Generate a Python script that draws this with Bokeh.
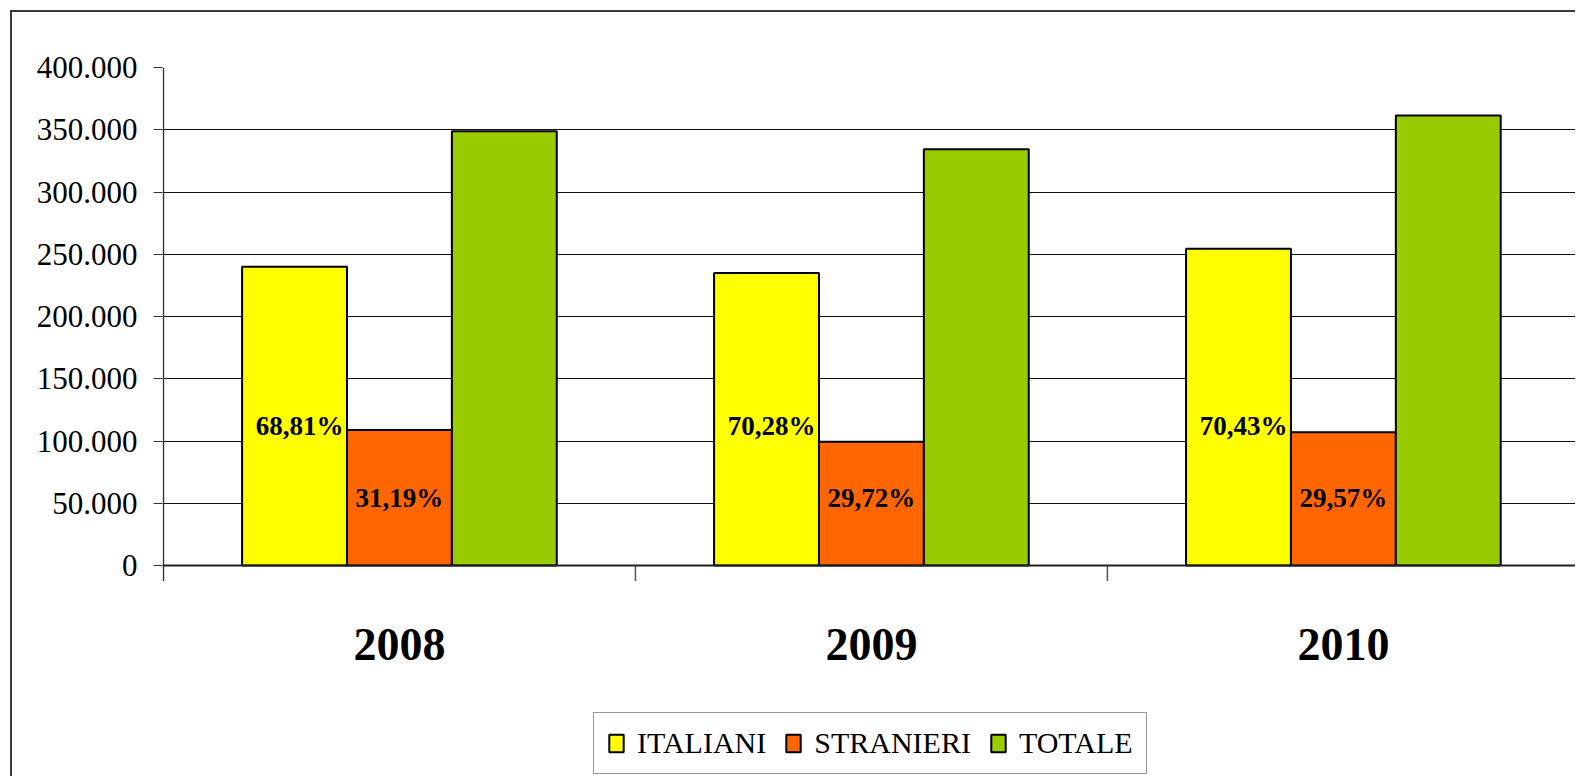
import numpy as np
from bokeh.plotting import figure
from bokeh.models import (Range1d, FixedTicker, ColumnDataSource, Legend, LegendItem,
                          LinearAxis, Grid)
from bokeh.transform import dodge
from bokeh.core.properties import value
from bokeh.embed import file_html
from bokeh.resources import INLINE

# ---------------- data ----------------
years = ["2008", "2009", "2010"]
italiani = [240000, 235000, 254500]
stranieri = [108800, 99400, 107000]
totale = [348800, 334400, 361500]
pct_italiani = ["68,81%", "70,28%", "70,43%"]
pct_stranieri = ["31,19%", "29,72%", "29,57%"]
series_names = ["ITALIANI", "STRANIERI", "TOTALE"]
series_colors = ["#FFFF00", "#FF6600", "#99CC00"]
y_ticks = [0, 50000, 100000, 150000, 200000, 250000, 300000, 350000, 400000]

FONT = "Liberation Serif"
n = len(years)
centers = np.arange(n) + 0.5
W = 1 / 4.5  # bar width (gap width 150%)

src = ColumnDataSource(dict(x=centers, years=years, italiani=italiani,
                            stranieri=stranieri, totale=totale,
                            pct_it=pct_italiani, pct_st=pct_stranieri))

p = figure(width=1565, height=766, output_backend="svg", toolbar_location=None,
           x_range=Range1d(-0.002, 2.996), y_range=Range1d(-171084, 400000),
           min_border_left=150, min_border_top=55, min_border_right=0,
           min_border_bottom=0, x_axis_location=None, y_axis_location=None)
p.outline_line_color = None
p.background_fill_color = "white"
p.border_fill_color = "white"
p.styles = {"border-left": "2px solid #3c3c3c", "border-top": "2px solid #3c3c3c",
            "margin-left": "10px", "margin-top": "10px"}

# drop default grids
p.center = [r for r in p.center if not isinstance(r, Grid)]

yticker = FixedTicker(ticks=y_ticks)
yaxis = LinearAxis(ticker=yticker)
yaxis.axis_line_color = None
yaxis.major_tick_out = 9
yaxis.major_tick_in = 0
yaxis.major_tick_line_color = "#333333"
yaxis.minor_tick_line_color = None
yaxis.major_label_standoff = 16
yaxis.major_label_text_font = FONT
yaxis.major_label_text_font_size = "31px"
yaxis.major_label_text_color = "black"
yaxis.major_label_overrides = {t: f"{t:,}".replace(",", ".") for t in y_ticks}
p.add_layout(yaxis, "left")

p.add_layout(Grid(dimension=1, ticker=FixedTicker(ticks=y_ticks[:-1]),
                  grid_line_color="#111111", grid_line_width=1))
p.add_layout(Grid(dimension=1, ticker=FixedTicker(ticks=y_ticks[-1:]),
                  grid_line_color="#808080", grid_line_width=2.5))

# axis lines and category separators
tick_len = 12500
p.segment(x0=[0], x1=[0], y0=[-tick_len], y1=[y_ticks[-1]], line_color="#333333",
          line_width=1.5)
p.segment(x0=list(range(1, n + 1)), x1=list(range(1, n + 1)),
          y0=[0] * n, y1=[-tick_len] * n, line_color="#555555", line_width=1.5)

bars = []
for field, off, col in zip(["italiani", "stranieri", "totale"], [-W, 0, W], series_colors):
    r = p.vbar(x=dodge("x", off), top=field, bottom=0, width=W, source=src,
               fill_color=col, line_color="black", line_width=2)
    bars.append(r)

p.segment(x0=[0], x1=[n], y0=[0], y1=[0], line_color="#222222", line_width=2)

# percentage labels
p.text(x=dodge("x", -W), y=112400, text="pct_it", source=src, x_offset=5,
       text_align="center", text_baseline="alphabetic", text_font=value(FONT),
       text_font_size="27px", text_font_style="bold", text_color="black")
p.text(x=dodge("x", 0), y=54600, text="pct_st", source=src,
       text_align="center", text_baseline="alphabetic", text_font=value(FONT),
       text_font_size="27px", text_font_style="bold", text_color="black")

# category labels
p.text(x="x", y=-63400, text="years", source=src, text_align="center",
       text_baseline="alphabetic", text_font=value(FONT), text_font_size="46px",
       text_font_style="bold", text_color="black")

legend = Legend(items=[LegendItem(label=nm, renderers=[r]) for nm, r in zip(series_names, bars)],
                orientation="horizontal", location=(431, 4))
legend.glyph_width = 18
legend.glyph_height = 22
legend.label_standoff = 12
legend.spacing = 18
legend.padding = 13
legend.margin = 0
legend.label_text_font = FONT
legend.label_text_font_size = "30px"
legend.label_text_color = "black"
legend.border_line_color = "#333333"
legend.border_line_width = 1.5
legend.background_fill_color = "white"
legend.background_fill_alpha = 1.0
p.add_layout(legend)

open("out.html", "w").write(file_html(p, INLINE))
